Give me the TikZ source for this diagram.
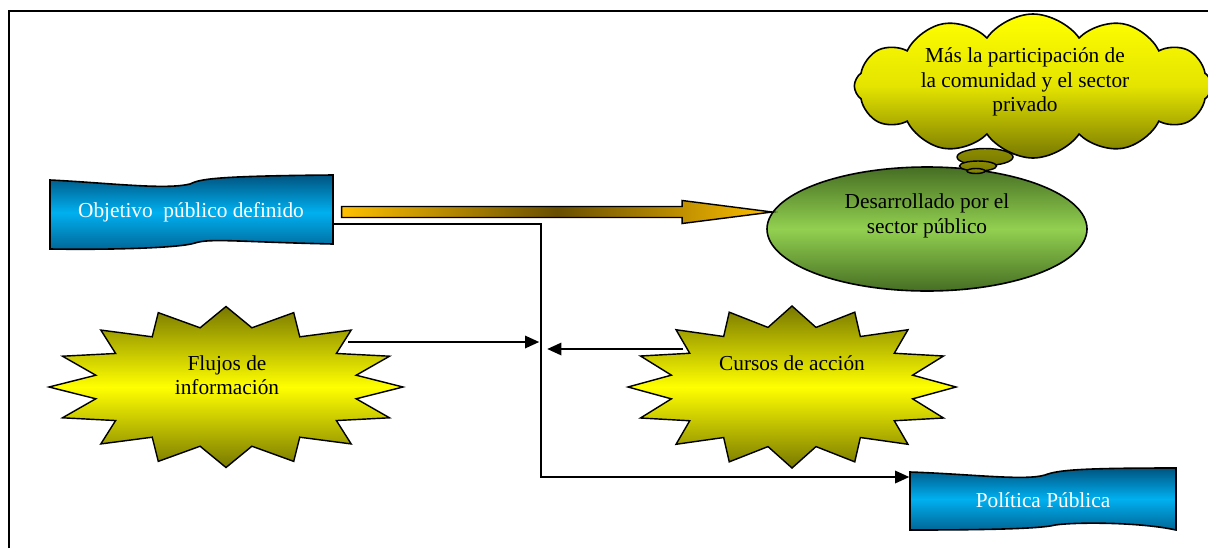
\documentclass[tikz,border=0pt]{standalone}
\usepackage{fontspec}
\setmainfont{Liberation Serif}
\usetikzlibrary{calc,shapes.geometric,shapes.symbols,arrows.meta}
\definecolor{bluedark}{RGB}{0,84,128}
\definecolor{bluelight}{RGB}{0,176,240}
\definecolor{olivedark}{RGB}{120,120,0}
\definecolor{greendark}{RGB}{70,110,35}
\definecolor{greenlight}{RGB}{146,208,80}
\definecolor{arrowgold}{RGB}{255,192,0}
\definecolor{arrowbrown}{RGB}{105,78,0}
\begin{document}
\begin{tikzpicture}[x=0.5625pt,y=-0.5625pt,
  txt/.style={font=\fontsize{12}{13.8}\selectfont,align=center,inner sep=0pt},
  banner/.style={draw=black,line width=0.9pt,top color=bluedark,bottom color=bluedark!80!bluelight,middle color=bluelight},
  burst/.style={draw=black,line width=0.8pt,top color=olivedark,bottom color=olivedark,middle color=yellow},
  bubble/.style={draw=black,line width=0.8pt,top color=olivedark!85!yellow,bottom color=olivedark},
  conn/.style={line width=1.1pt,-{Triangle[length=8pt,width=7pt]}}]
\clip (0,0) rectangle (1208,548);
\draw[line width=1.1pt] (9,548) -- (9,11) -- (1208,11);

% banners
\path[banner] (50,180) .. controls (110,183) and (165,190) .. (190,184)
  .. controls (200,179) and (215,176) .. (333,175) -- (333,244)
  .. controls (240,242) and (210,238) .. (195,243)
  .. controls (180,248) and (110,250) .. (50,249) -- cycle;
\node[txt,text=white,minimum width=159pt,minimum height=38pt] (obj) at (191,212) {Objetivo\ \ público definido};
\path[banner] (910,472) .. controls (970,474) and (1025,481) .. (1045,475)
  .. controls (1058,470) and (1080,468) .. (1176,468) -- (1176,530)
  .. controls (1140,522) and (1075,522) .. (1055,525)
  .. controls (1040,529) and (980,530) .. (910,530) -- cycle;
\node[txt,text=white,minimum width=150pt,minimum height=33pt] (pol) at (1043,500) {Política Pública};

% stars
\node[minimum width=199pt,minimum height=90.5pt] (flu) at (226,387) {};
\draw[burst,shift={(flu.center)}] plot[variable=\k,samples at={0,...,31}]
  ({177*(1-0.25*mod(\k,2))*cos(\k*11.25)},{80.5*(1-0.25*mod(\k,2))*sin(\k*11.25)}) -- cycle;
\node[txt] (flutxt) at (227,375) {Flujos de\\información};
\node[minimum width=184pt,minimum height=91pt] (cur) at (792,387) {};
\draw[burst,shift={(cur.center)}] plot[variable=\k,samples at={0,...,31}]
  ({164*(1-0.25*mod(\k,2))*cos(\k*11.25)},{81*(1-0.25*mod(\k,2))*sin(\k*11.25)}) -- cycle;
\node[txt] (curtxt) at (792,363) {Cursos de acción};

% ellipse and cloud
\node[ellipse,draw,line width=0.9pt,inner sep=0pt,minimum width=180pt,minimum height=69.75pt,
  top color=greendark,bottom color=greendark,middle color=greenlight] (des) at (927,229) {};
\node[txt] (destxt) at (927,216) {Desarrollado por el\\sector público};
\node[cloud,cloud puffs=12,cloud puff arc=110,cloud ignores aspect,
  minimum width=201pt,minimum height=81pt,inner sep=0pt,
  draw,line width=0.9pt,top color=yellow,bottom color=olivedark,middle color=yellow!80!olivedark] (cloud) at (1033,86) {};
\path[bubble] (985,157) ellipse [x radius=28,y radius=8.5];
\path[bubble] (978,166) ellipse [x radius=18.5,y radius=5];
\path[bubble] (976,171) ellipse [x radius=9,y radius=2.5];
\node[txt] (cloudtxt) at (1025,82) {Más la participación de\\la comunidad y el sector\\privado};

% connectors
\coordinate (arrS) at ($(obj.east)+(9,0)$);
\coordinate (tip) at ($(arrS -| des.west)+(6,0)$);
\draw[line width=0.8pt,left color=arrowgold,right color=arrowgold,middle color=arrowbrown]
  ($(arrS)+(0,-5.5)$) -- ($(tip)+(-90,-5.5)$) -- ($(tip)+(-90,-11.5)$) -- (tip)
  -- ($(tip)+(-90,11.5)$) -- ($(tip)+(-90,5.5)$) -- ($(arrS)+(0,5.5)$) -- cycle;
\coordinate (bend) at (541,477);
\draw[conn] ($(obj.east)+(0,12)$) -| (bend) -- (pol.west |- bend);
\coordinate (fluout) at ($(flu)+(122,-45)$);
\coordinate (curout) at ($(cur)+(-109,-38)$);
\draw[conn,shorten >=1pt] (fluout) -- (fluout -| bend);
\draw[conn,shorten >=3.5pt] (curout) -- (curout -| bend);
\end{tikzpicture}
\end{document}
